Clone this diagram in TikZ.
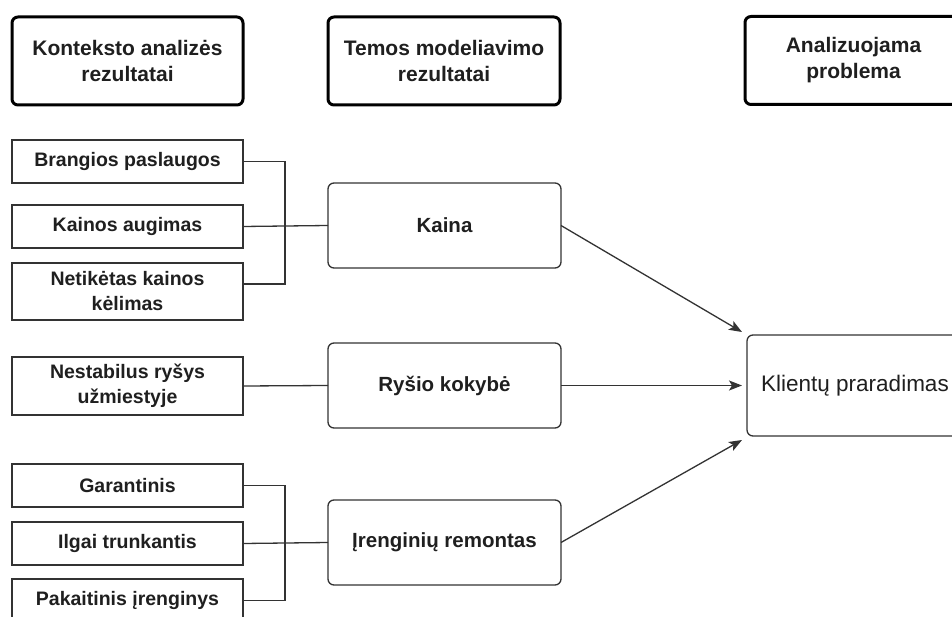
\documentclass[tikz,border=0pt]{standalone}
\usepackage{fontspec}
\setmainfont{Liberation Sans}
\usetikzlibrary{arrows.meta,calc}

\begin{document}
\begin{tikzpicture}[x=1pt,y=-1pt,
  every node/.style={inner sep=0pt, outer sep=0pt, align=center, text=black!88},
  header/.style={draw=black, line width=3pt, rounded corners=6pt, minimum height=88pt,
    font=\fontsize{21}{26}\selectfont\bfseries},
  cause/.style={draw=black!80, line width=1.3pt, minimum width=231pt, minimum height=43pt,
    font=\fontsize{19.5}{25}\selectfont\bfseries},
  topic/.style={draw=black!80, line width=1.3pt, rounded corners=6pt, minimum width=233pt,
    minimum height=85pt, font=\fontsize{20.5}{25}\selectfont\bfseries},
  result/.style={draw=black!80, line width=1.3pt, rounded corners=6pt, minimum width=216pt,
    minimum height=101pt, font=\fontsize{22.5}{27}\selectfont},
  link/.style={draw=black!80, line width=1.3pt},
  flow/.style={link, -{Stealth[length=13pt,width=10pt,inset=3pt]}}
]
\clip (0,0) rectangle (952,617);
\fill[white] (0,0) rectangle (952,617);

% column headings
\node[header, minimum width=231pt] (h1) at (127.5,61) {Konteksto analizės\\rezultatai};
\node[header, minimum width=232pt] (h2) at (444,61) {Temos modeliavimo\\rezultatai};
\node[header, minimum width=217pt] (h3) at (853.5,60.5) {Analizuojama\\problema};

% context findings
\node[cause] (b1) at (127.5,161.5) {Brangios paslaugos};
\node[cause] (b2) at (127.5,226.5) {Kainos augimas};
\node[cause, minimum height=57pt] (b3) at (127.5,291.5) {Netikėtas kainos\\kėlimas};
\node[cause, minimum height=58pt] (n1) at (127.5,386) {Nestabilus ryšys\\užmiestyje};
\node[cause] (g1) at (127.5,485.5) {Garantinis};
\node[cause] (g2) at (127.5,543.5) {Ilgai trunkantis};
\node[cause] (g3) at (127.5,600.5) {Pakaitinis įrenginys};

% topics
\node[topic] (kaina) at (444.5,225.5) {Kaina};
\node[topic] (rysys) at (444.5,385.5) {Ryšio kokybė};
\node[topic] (remont) at (444.5,542.5) {Įrenginių remontas};

% problem
\node[result] (kl) at (855,385.5) {Klientų praradimas};

% bracket joins
\coordinate (b3p) at ($(b3.east)+(0,-7.5)$);
\draw[link] (b1.east) -- ++(42,0) |- (b3p);
\draw[link] (b2.east) -- (kaina.west);
\draw[link] (n1.east) -- (rysys.west);
\draw[link] (g1.east) -- ++(42,0) |- (g3.east);
\draw[link] (g2.east) -- (remont.west);

% arrows into the problem
\coordinate (kin1) at ($(kl.north west)+(-5,-3)$);
\coordinate (kin2) at ($(kl.west)+(-5,0)$);
\coordinate (kin3) at ($(kl.south west)+(-5,4)$);
\draw[flow] (kaina.east) -- (kin1);
\draw[flow] (rysys.east) -- (kin2);
\draw[flow] (remont.east) -- (kin3);
\end{tikzpicture}
\end{document}
